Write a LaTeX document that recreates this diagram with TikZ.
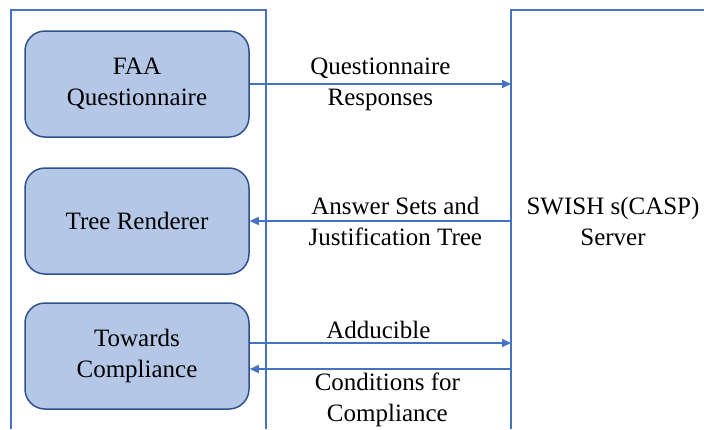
\documentclass[tikz,border=0pt]{standalone}
\usepackage{fontspec}
\setmainfont{Liberation Serif}
\usetikzlibrary{arrows.meta}
\definecolor{boxfill}{HTML}{B4C7E7}
\definecolor{boxline}{HTML}{2F528F}
\definecolor{flowline}{HTML}{4472C4}

\begin{document}
\begin{tikzpicture}[
      x=1pt, y=-1pt,
      every node/.style={font=\fontsize{25}{31}\selectfont, align=center},
      module/.style={rectangle, rounded corners=20pt, draw=boxline, fill=boxfill, line width=1.5pt,
        minimum width=224pt, minimum height=106pt, inner sep=0pt},
      flow/.style={draw=flowline, line width=1.5pt, -{Triangle[length=9pt,width=8pt]}},
      panel/.style={draw=flowline, line width=1.2pt}
    ]
    \useasboundingbox (0,0) rectangle (704,429);
    % panels
    \draw[panel] (11,429) -- (11,10) -- (266,10) -- (266,429);
    \draw[panel] (704,10) -- (511,10) -- (511,429);
    \coordinate (srv) at (511,10);
    % modules
    \node[module] (faa) at (137,84) {FAA\\Questionnaire};
    \node[module] (tree) at (137,221) {Tree Renderer};
    \node[module] (tow) at (137,356) {Towards\\Compliance};
    \node (server) at (613,221) {SWISH s(CASP)\\Server};
    \coordinate (adin) at ([yshift=13pt]tow.east);
    \coordinate (condin) at ([yshift=-13pt]tow.east);
    % connectors
    \draw[flow] (faa.east) -- (faa.east -| srv)
      node[midway] {Questionnaire\\Responses};
    \draw[flow] (tree.east -| srv) -- (tree.east)
      node[midway, xshift=15pt] {Answer Sets and\\Justification Tree};
    \draw[flow] (adin) -- (adin -| srv)
      node[midway, above, xshift=-2pt] {Adducible};
    \draw[flow] (condin -| srv) -- (condin)
      node[midway, below, xshift=7pt] {Conditions for\\Compliance};
\end{tikzpicture}
\end{document}
